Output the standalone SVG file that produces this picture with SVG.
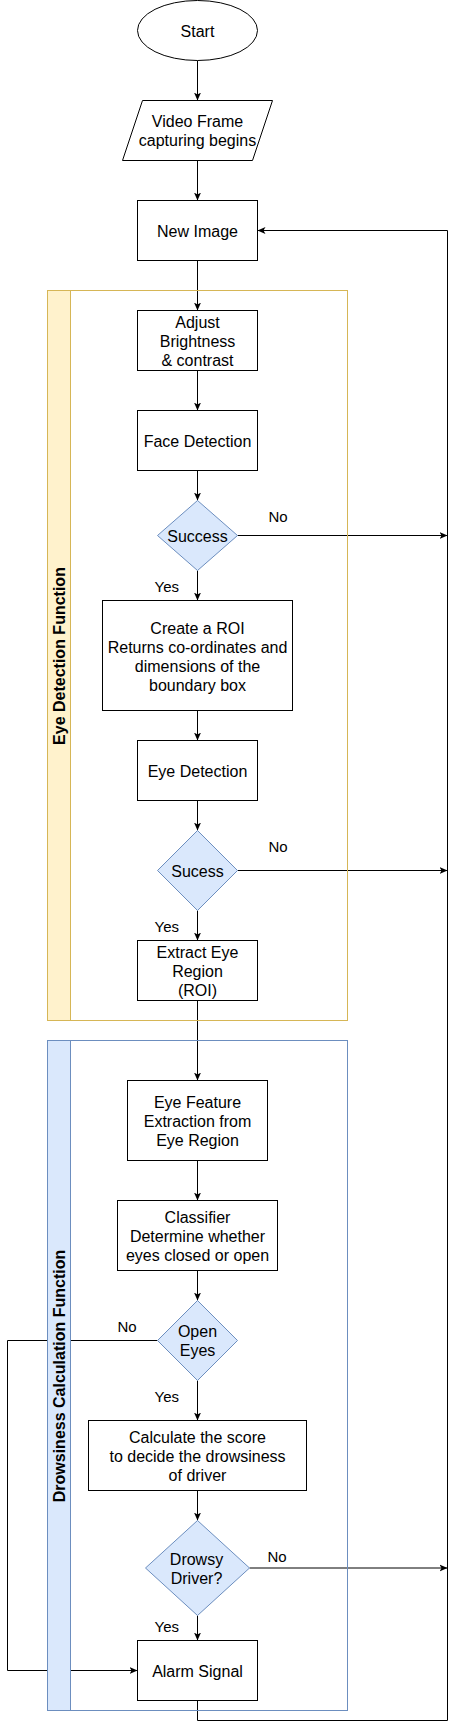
<svg xmlns="http://www.w3.org/2000/svg" width="456" height="1729" viewBox="0 0 456 1729">
<defs>
<style>
.n{fill:#fff;stroke:#000;stroke-width:1}
.d{fill:#dae8fc;stroke:#6c8ebf;stroke-width:1}
.t{font-family:"Liberation Sans",Arial,Helvetica,sans-serif;font-size:16px;fill:#000;text-anchor:middle}
.l{font-family:"Liberation Sans",Arial,Helvetica,sans-serif;font-size:15px;fill:#000}
.h{font-family:"Liberation Sans",Arial,Helvetica,sans-serif;font-size:16px;font-weight:bold;fill:#000;text-anchor:middle}
.c{fill:none;stroke:#000;stroke-width:1}
</style>
<marker id="a" markerUnits="userSpaceOnUse" markerWidth="10" markerHeight="8" refX="8" refY="4" orient="auto">
<path d="M0,0.5 L8,4 L0,7.5 L2,4 Z" fill="#000"/>
</marker>
</defs>
<rect width="456" height="1729" fill="#fff"/>
<g transform="translate(0.5,0.5)">
<g id="connectors">
<path class="c" marker-end="url(#a)" d="M197,60 L197,100"/>
<path class="c" marker-end="url(#a)" d="M197,160 L197,200"/>
<path class="c" marker-end="url(#a)" d="M197,260 L197,310"/>
<path class="c" marker-end="url(#a)" d="M197,370 L197,410"/>
<path class="c" marker-end="url(#a)" d="M197,470 L197,500"/>
<path class="c" marker-end="url(#a)" d="M237,535 L447,535"/>
<path class="c" marker-end="url(#a)" d="M197,570 L197,600"/>
<path class="c" marker-end="url(#a)" d="M197,710 L197,740"/>
<path class="c" marker-end="url(#a)" d="M197,800 L197,830"/>
<path class="c" marker-end="url(#a)" d="M237,870 L447,870"/>
<path class="c" marker-end="url(#a)" d="M197,910 L197,940"/>
<path class="c" marker-end="url(#a)" d="M197,1000 L197,1080"/>
<path class="c" marker-end="url(#a)" d="M197,1160 L197,1200"/>
<path class="c" marker-end="url(#a)" d="M197,1270 L197,1300"/>
<path class="c" marker-end="url(#a)" d="M157,1340 L7,1340 L7,1670 L137,1670"/>
<path class="c" marker-end="url(#a)" d="M197,1380 L197,1420"/>
<path class="c" marker-end="url(#a)" d="M197,1490 L197,1520"/>
<path class="c" marker-end="url(#a)" d="M249,1567.5 L447,1567.5"/>
<path class="c" marker-end="url(#a)" d="M197,1615 L197,1640"/>
<path class="c" marker-end="url(#a)" d="M197,1700 L197,1720 L447,1720 L447,230 L257,230"/>
<text class="l" x="268" y="521">No</text>
<text class="l" x="154" y="591">Yes</text>
<text class="l" x="268" y="851">No</text>
<text class="l" x="154" y="931">Yes</text>
<text class="l" x="117" y="1331">No</text>
<text class="l" x="154" y="1401">Yes</text>
<text class="l" x="267" y="1561">No</text>
<text class="l" x="154" y="1631">Yes</text>
</g>
<g id="lane-eye-detection">
<rect x="47" y="290" width="300" height="730" fill="none" stroke="#d6b656"/>
<rect x="47" y="290" width="23" height="730" fill="#fff2cc" stroke="#d6b656"/>
<text class="h" transform="translate(64.5,655.5) rotate(-90)">Eye Detection Function</text>
</g>
<g id="lane-drowsiness">
<rect x="47" y="1040" width="300" height="670" fill="none" stroke="#6c8ebf"/>
<rect x="47" y="1040" width="23" height="670" fill="#dae8fc" stroke="#6c8ebf"/>
<text class="h" transform="translate(64.5,1375.5) rotate(-90)">Drowsiness Calculation Function</text>
</g>
<g id="start">
<ellipse class="n" cx="197" cy="30" rx="60" ry="30"/>
<text class="t" x="197" y="36">Start</text>
</g>
<g id="video-frame">
<polygon class="n" points="142,100 272,100 252,160 122,160"/>
<text class="t" x="197" y="126.5">Video Frame</text>
<text class="t" x="197" y="145.5">capturing begins</text>
</g>
<g id="new-image">
<rect class="n" x="137" y="200" width="120" height="60"/>
<text class="t" x="197" y="236">New Image</text>
</g>
<g id="adjust">
<rect class="n" x="137" y="310" width="120" height="60"/>
<text class="t" x="197" y="327">Adjust</text>
<text class="t" x="197" y="346">Brightness</text>
<text class="t" x="197" y="365">&amp; contrast</text>
</g>
<g id="face-detection">
<rect class="n" x="137" y="410" width="120" height="60"/>
<text class="t" x="197" y="446">Face Detection</text>
</g>
<g id="success">
<polygon class="d" points="197,500 237,535 197,570 157,535"/>
<text class="t" x="197" y="541">Success</text>
</g>
<g id="create-roi">
<rect class="n" x="102" y="600" width="190" height="110"/>
<text class="t" x="197" y="633">Create a ROI</text>
<text class="t" x="197" y="652">Returns co-ordinates and</text>
<text class="t" x="197" y="671">dimensions of the</text>
<text class="t" x="197" y="690">boundary box</text>
</g>
<g id="eye-detection">
<rect class="n" x="137" y="740" width="120" height="60"/>
<text class="t" x="197" y="776">Eye Detection</text>
</g>
<g id="sucess">
<polygon class="d" points="197,830 237,870 197,910 157,870"/>
<text class="t" x="197" y="876">Sucess</text>
</g>
<g id="extract-eye">
<rect class="n" x="137" y="940" width="120" height="60"/>
<text class="t" x="197" y="957">Extract Eye</text>
<text class="t" x="197" y="976">Region</text>
<text class="t" x="197" y="995">(ROI)</text>
</g>
<g id="eye-feature">
<rect class="n" x="127" y="1080" width="140" height="80"/>
<text class="t" x="197" y="1107">Eye Feature</text>
<text class="t" x="197" y="1126">Extraction from</text>
<text class="t" x="197" y="1145">Eye Region</text>
</g>
<g id="classifier">
<rect class="n" x="117" y="1200" width="160" height="70"/>
<text class="t" x="197" y="1222">Classifier</text>
<text class="t" x="197" y="1241">Determine whether</text>
<text class="t" x="197" y="1260">eyes closed or open</text>
</g>
<g id="open-eyes">
<polygon class="d" points="197,1300 237,1340 197,1380 157,1340"/>
<text class="t" x="197" y="1336.5">Open</text>
<text class="t" x="197" y="1355.5">Eyes</text>
</g>
<g id="calculate">
<rect class="n" x="88" y="1420" width="218" height="70"/>
<text class="t" x="197" y="1442">Calculate the score</text>
<text class="t" x="197" y="1461">to decide the drowsiness</text>
<text class="t" x="197" y="1480">of driver</text>
</g>
<g id="drowsy">
<polygon class="d" points="197,1520 249,1567.5 197,1615 145,1567.5"/>
<text class="t" x="196" y="1564">Drowsy</text>
<text class="t" x="196" y="1583">Driver?</text>
</g>
<g id="alarm">
<rect class="n" x="137" y="1640" width="120" height="60"/>
<text class="t" x="197" y="1676">Alarm Signal</text>
</g>
</g>
</svg>
